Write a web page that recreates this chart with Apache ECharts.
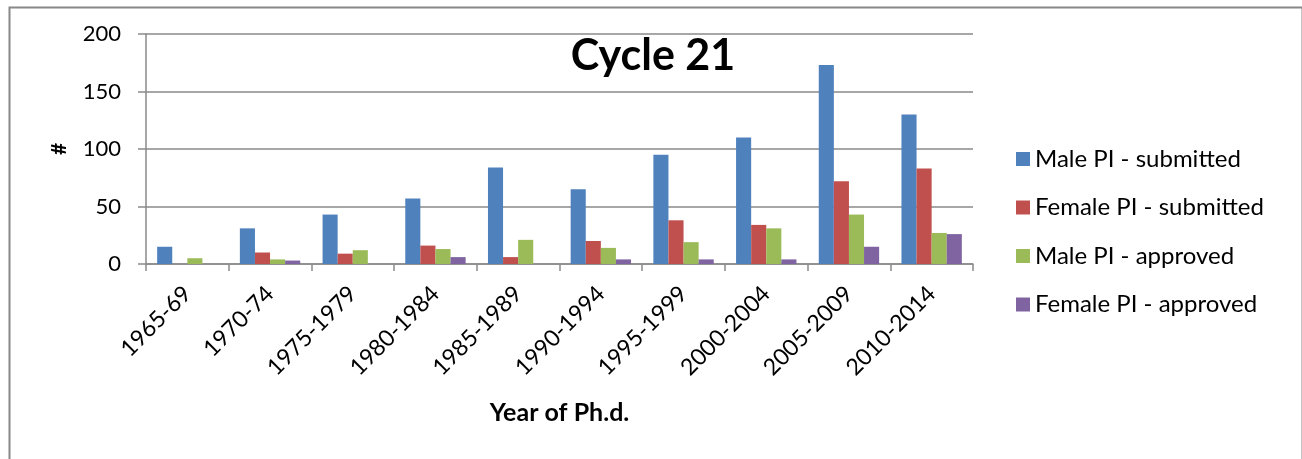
<!DOCTYPE html>
<html>
<head>
<meta charset="utf-8">
<script src="https://cdn.jsdelivr.net/npm/echarts@6/dist/echarts.min.js"></script>
<style>
html,body{margin:0;padding:0;background:#fff;}
#c{width:1302px;height:459px;}
</style>
</head>
<body>
<div id="c"></div>
<script>
var categories = ['1965-69','1970-74','1975-1979','1980-1984','1985-1989','1990-1994','1995-1999','2000-2004','2005-2009','2010-2014'];
var maleSubmitted   = [15, 31, 43, 57, 84, 65, 95, 110, 173, 130];
var femaleSubmitted = [0, 10, 9, 16, 6, 20, 38, 34, 72, 83];
var maleApproved    = [5, 4, 12, 13, 21, 14, 19, 31, 43, 27];
var femaleApproved  = [0, 3, 0, 6, 0, 4, 4, 4, 15, 26];
var seriesNames = ['Male PI - submitted','Female PI - submitted','Male PI - approved','Female PI - approved'];
var colors = ['#4F81BD','#C0504D','#9BBB59','#8064A2'];

var font = 'Lato, "Open Sans", sans-serif';
var gridColor = '#8a8a8a';
var chart = echarts.init(document.getElementById('c'));
var datas = [maleSubmitted, femaleSubmitted, maleApproved, femaleApproved];
var series = datas.map(function(d,i){
  return {
    name: seriesNames[i], type: 'bar', data: d,
    itemStyle: {color: colors[i]},
    barGap: '0%', barCategoryGap: '27%'
  };
});
chart.setOption({
  animation: false,
  color: colors,
  grid: {left: 146, right: 329, top: 34, bottom: 195},
  legend: {
    orient: 'vertical', left: 1016, top: 147, padding: 0,
    itemWidth: 14, itemHeight: 14, itemGap: 24.5,
    icon: 'rect',
    textStyle: {fontFamily: font, fontSize: 24, color: '#000', lineHeight: 24},
    data: seriesNames
  },
  graphic: [
    {type: 'rect', left: 7, top: 5, shape: {x: 0, y: 0, width: 1293, height: 470}, style: {fill: 'none', stroke: '#888', lineWidth: 2}},
    {type: 'text', x: 653, y: 56, style: {text: 'Cycle 21', font: 'bold 43px ' + font, fill: '#000', textAlign: 'center', textVerticalAlign: 'middle'}}
  ],
  xAxis: {
    type: 'category', data: categories,
    name: 'Year of Ph.d.', nameLocation: 'middle', nameGap: 136,
    nameTextStyle: {fontFamily: font, fontSize: 25, fontWeight: 'bold', color: '#000'},
    axisLine: {lineStyle: {color: gridColor, width: 1.5}},
    axisTick: {show: true, length: 7, lineStyle: {color: gridColor, width: 1.5}},
    axisLabel: {rotate: 45, fontFamily: font, fontSize: 23, color: '#000', margin: 26, interval: 0}
  },
  yAxis: {
    type: 'value', min: 0, max: 200, interval: 50,
    name: '#', nameLocation: 'middle', nameGap: 76, nameRotate: 90,
    nameTextStyle: {fontFamily: font, fontSize: 21, fontWeight: 'bold', color: '#000'},
    axisLine: {show: true, lineStyle: {color: gridColor, width: 1.5}},
    axisTick: {show: true, length: 8, lineStyle: {color: gridColor, width: 1.5}},
    axisLabel: {fontFamily: font, fontSize: 22, color: '#000', margin: 25},
    splitLine: {lineStyle: {color: gridColor, width: 1.5}}
  },
  series: series
});
</script>
</body>
</html>
